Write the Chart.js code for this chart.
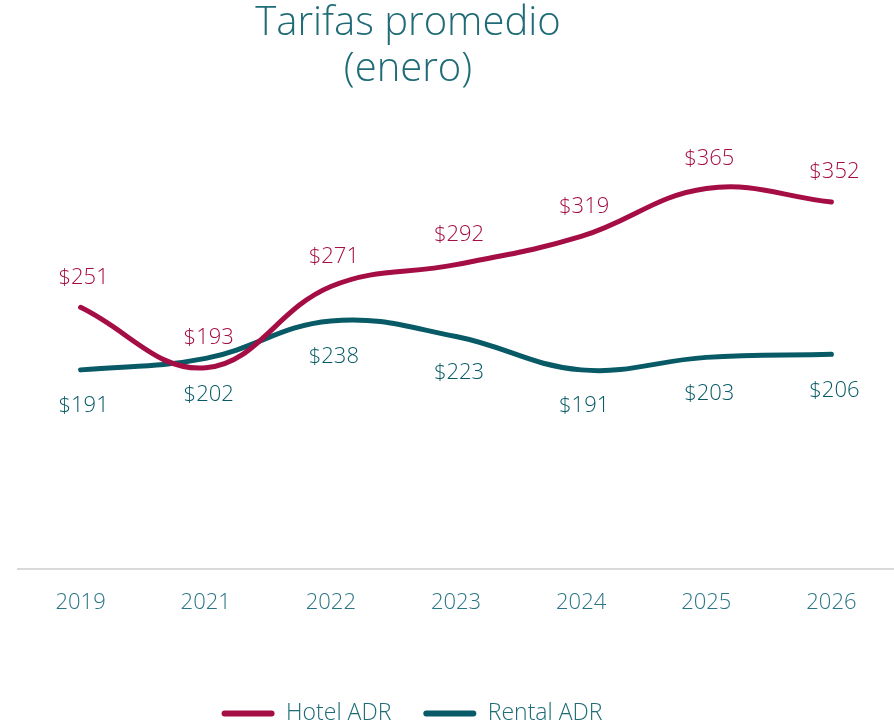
<!DOCTYPE html>
<html>
<head>
<meta charset="utf-8">
<script src="https://cdn.jsdelivr.net/npm/chart.js@4/dist/chart.umd.min.js"></script>
<style>
  html, body { margin: 0; padding: 0; background: #fff; }
  #wrap { width: 894px; height: 724px; }
</style>
</head>
<body>
<div id="wrap"><canvas id="chart"></canvas></div>
<script>
const years = ['2019', '2021', '2022', '2023', '2024', '2025', '2026'];
const hotelAdr = [251, 193, 271, 292, 319, 365, 352];
const rentalAdr = [191, 202, 238, 223, 191, 203, 206];
const titleLines = ['Tarifas promedio', '(enero)'];

const FONT = "'Open Sans', sans-serif";
const hotelColour = '#a50d45';
const rentalColour = '#075a66';
const textColour = '#1f6b78';

// draws the $ labels, hotel above the point and rental below
const valueLabels = {
    id: 'valueLabels',
    afterDatasetsDraw(chart) {
        const ctx = chart.ctx;
        ctx.save();
        ctx.font = '300 22px ' + FONT;
        ctx.textAlign = 'center';
        ctx.textBaseline = 'middle';
        chart.data.datasets.forEach((ds, i) => {
            const meta = chart.getDatasetMeta(i);
            ctx.fillStyle = ds.borderColor;
            meta.data.forEach((pt, j) => {
                const dy = i === 0 ? -30 : 36;
                ctx.fillText('$' + ds.data[j], pt.x + 3, pt.y + dy);
            });
        });
        ctx.restore();
    }
};

// title and legend sit left of the canvas centre in the original
const offCentre = {
    id: 'offCentre',
    beforeDraw(chart) {
        chart.legend.left -= 44;
        chart.legend.right -= 44;
    },
    afterDraw(chart) {
        const ctx = chart.ctx;
        ctx.save();
        ctx.font = '300 40px ' + FONT;
        ctx.fillStyle = textColour;
        ctx.textAlign = 'center';
        ctx.textBaseline = 'middle';
        titleLines.forEach((line, i) => ctx.fillText(line, 408, 24 + i * 46));
        ctx.restore();
    }
};

new Chart(document.getElementById('chart'), {
    type: 'line',
    data: {
        labels: years,
        datasets: [{
            label: 'Hotel ADR',
            data: hotelAdr,
            borderColor: hotelColour,
            backgroundColor: hotelColour,
            borderWidth: 5,
            borderCapStyle: 'round',
            pointRadius: 0,
            tension: 0.4
        }, {
            label: 'Rental ADR',
            data: rentalAdr,
            borderColor: rentalColour,
            backgroundColor: rentalColour,
            borderWidth: 5,
            borderCapStyle: 'round',
            pointRadius: 0,
            tension: 0.4
        }]
    },
    options: {
        responsive: true,
        maintainAspectRatio: false,
        animation: false,
        layout: { padding: { left: 18, right: 0, top: 152, bottom: -11 } },
        plugins: {
            title: { display: false },
            tooltip: { enabled: false },
            legend: {
                position: 'bottom',
                labels: {
                    color: textColour,
                    font: { family: FONT, size: 23, weight: '300' },
                    boxWidth: 53,
                    boxHeight: 6,
                    padding: 32,
                    useBorderRadius: true,
                    generateLabels(chart) {
                        return Chart.defaults.plugins.legend.labels.generateLabels(chart)
                            .map(item => ({ ...item, lineWidth: 0, borderRadius: 3 }));
                    }
                }
            }
        },
        scales: {
            x: {
                offset: true,
                grid: { display: false, drawTicks: false },
                border: { color: '#d9d9d9', width: 2 },
                ticks: {
                    color: '#2a7585',
                    padding: 21,
                    font: { family: FONT, size: 22, weight: '300' }
                },
                afterFit(scale) { scale.height = 101; }
            },
            y: {
                display: false,
                min: 0,
                max: 400
            }
        }
    },
    plugins: [valueLabels, offCentre]
});
</script>
</body>
</html>
